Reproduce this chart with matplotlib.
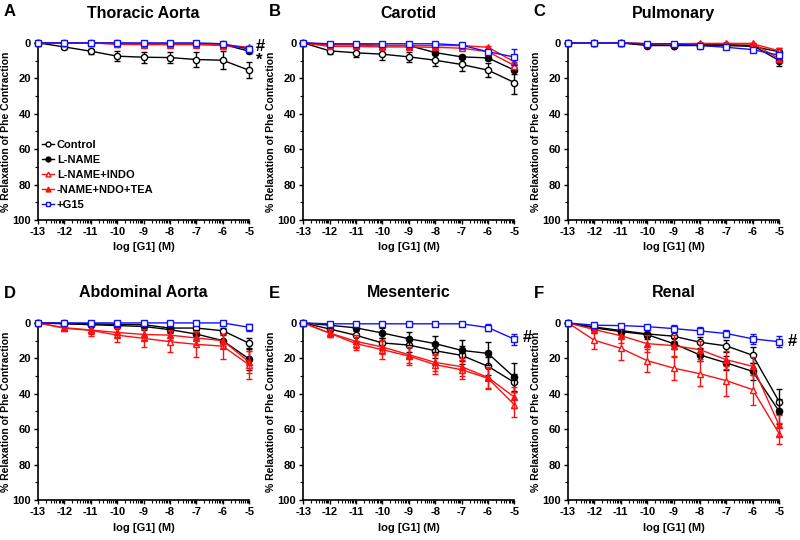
import numpy as np
import matplotlib
matplotlib.use("Agg")
import matplotlib.pyplot as plt
from matplotlib.lines import Line2D

plt.rcParams['font.family'] = ['Liberation Sans', 'DejaVu Sans']
plt.rcParams['font.weight'] = 'bold'
plt.rcParams['axes.unicode_minus'] = False

log_g1 = [-13, -12, -11, -10, -9, -8, -7, -6, -5]
labels = ["Control", "L-NAME", "L-NAME+INDO", "-NAME+NDO+TEA", "+G15"]

# order of rows: Control, L-NAME, L-NAME+INDO, L-NAME+INDO+TEA, +G15
thoracic_mean = [[0, 2.3, 4.7, 7.5, 8.1, 8.3, 9.4, 9.8, 15.5],
                 [0, 0, 0, 0.3, 0.5, 0.5, 0.5, 0.8, 4.7],
                 [0, 0, 0, 0.8, 1.0, 1.0, 1.0, 1.5, 3.0],
                 [0, 0, 0, 0.5, 0.5, 0.5, 0.5, 1.0, 2.5],
                 [0, 0, 0, 0, 0, 0, 0, 0.5, 3.5]]
thoracic_err = [[0, 1, 1.5, 3, 3, 3, 4, 5, 4.5],
                [0, 0, 0, 0, 0, 0, 0, 0.5, 1],
                [0, 0, 0, 0, 0, 0, 0, 0.5, 1],
                [0, 0, 0, 0, 0, 0, 0, 0.5, 1],
                [0, 0, 0, 0, 0, 0, 0, 0.5, 1]]

carotid_mean = [[0, 4.5, 5.6, 6.4, 7.9, 9.8, 12.2, 15.4, 22.4],
                [0, 1.0, 1.0, 1.5, 1.5, 5.5, 7.9, 8.5, 15.4],
                [0, 2.0, 2.0, 2.3, 2.3, 2.5, 3.0, 5.0, 12.8],
                [0, 1.0, 1.0, 1.5, 1.5, 1.5, 1.5, 2.5, 10.7],
                [0, 0.5, 0.5, 0.5, 0.5, 0.5, 1.3, 5.0, 8.0]]
carotid_err = [[0, 2, 2.5, 3, 3, 3.5, 3.5, 4, 6.5],
               [0, 0.5, 0.5, 0.5, 0.5, 1, 1, 1, 2],
               [0, 0.5, 0.5, 0.5, 0.5, 0.5, 1, 1, 2],
               [0, 0.5, 0.5, 0.5, 0.5, 0.5, 1, 1, 2],
               [0, 0, 0, 0, 0, 0, 0.5, 1, 4.5]]

pulmonary_mean = [[0, 0, 0, 1.0, 1.5, 1.5, 1.5, 2.0, 5.0],
                  [0, 0, 0, 1.5, 1.5, 1.0, 1.0, 1.5, 10.0],
                  [0, 0, 0, 0.5, 0.5, 0.5, 0.5, 0.5, 4.5],
                  [0, 0, 0, 0.5, 0.5, 0.3, 0.3, 0.3, 9.0],
                  [0, 0, 0, 0.5, 0.5, 1.5, 2.5, 3.8, 7.0]]
pulmonary_err = [[0, 0, 0, 0.5, 0.5, 0.5, 0.5, 0.5, 2],
                 [0, 0, 0, 0.5, 0.5, 0.5, 0.5, 0.5, 3],
                 [0, 0, 0, 0, 0, 0, 0, 0.5, 1.5],
                 [0, 0, 0, 0, 0, 0, 0, 0.5, 1.5],
                 [0, 0, 0, 0, 0, 0, 0.5, 0.5, 2]]

abdominal_mean = [[0, 0.3, 0.5, 0.8, 1.0, 2.9, 2.9, 4.4, 11.5],
                  [0, 0.5, 1.0, 1.5, 2.0, 3.8, 6.3, 10.0, 20.4],
                  [0, 3.0, 4.2, 6.9, 8.7, 10.6, 12.1, 13.1, 23.7],
                  [0, 2.7, 4.0, 5.4, 6.5, 6.9, 8.5, 10.0, 22.1],
                  [0, 0, 0, 0, 0, 0, 0, 0, 2.5]]
abdominal_err = [[0, 0.5, 0.5, 0.5, 1, 1, 1, 1.5, 3],
                 [0, 1, 1, 1.5, 2, 2, 2.5, 3, 6],
                 [0, 1, 3, 4, 5, 6, 7, 7, 8],
                 [0, 1, 2, 2.5, 3, 3, 4, 4, 6],
                 [0, 0, 0, 0, 0, 0, 0, 0, 2]]

mesenteric_mean = [[0, 3.4, 7.0, 11.3, 12.5, 15.7, 18.3, 24.5, 33.6],
                   [0, 1.3, 2.8, 5.7, 8.9, 11.7, 15.5, 17.2, 30.8],
                   [0, 5.8, 11.7, 15.1, 18.7, 23.6, 26.4, 31.3, 46.2],
                   [0, 5.7, 10.4, 13.6, 17.9, 22.3, 24.7, 30.8, 41.9],
                   [0, 0.5, 0.5, 0.5, 0.5, 0.5, 0.5, 2.6, 9.2]]
mesenteric_err = [[0, 2, 3, 3, 4, 4, 5, 5, 5],
                  [0, 1, 2, 3, 3.5, 4.5, 6, 6.5, 8],
                  [0, 2, 3.5, 5, 5, 5.5, 5.5, 6, 7],
                  [0, 2, 3.5, 4, 4.5, 5, 5, 6, 6],
                  [0, 0, 0, 0, 0, 0, 0, 2, 3]]

renal_mean = [[0, 2.3, 4.3, 6.2, 7.5, 10.9, 13.0, 18.3, 44.5],
              [0, 2.8, 4.9, 6.6, 11.7, 18.1, 22.6, 27.4, 50.0],
              [0, 9.8, 14.3, 21.3, 25.5, 28.7, 32.6, 37.7, 62.6],
              [0, 3.8, 7.2, 11.7, 12.8, 15.1, 20.8, 24.5, 57.9],
              [0, 1.3, 1.5, 2.1, 3.2, 4.5, 6.0, 9.0, 10.6]]
renal_err = [[0, 1, 1.5, 2, 2.5, 3, 3.5, 4.5, 7],
             [0, 1, 2, 2.5, 3, 3.5, 4, 5, 7],
             [0, 5, 6.5, 6.5, 6.5, 7, 8.5, 8.5, 6],
             [0, 2, 4, 5, 6, 5, 5, 5, 6],
             [0, 0.5, 1, 1, 2, 2, 2, 3, 3]]

titles = ["Thoracic Aorta", "Carotid", "Pulmonary",
          "Abdominal Aorta", "Mesenteric", "Renal"]
letters = ["A", "B", "C", "D", "E", "F"]
means = [thoracic_mean, carotid_mean, pulmonary_mean,
         abdominal_mean, mesenteric_mean, renal_mean]
errs = [thoracic_err, carotid_err, pulmonary_err,
        abdominal_err, mesenteric_err, renal_err]

styles = [dict(color='black', marker='o', mfc='white'),
          dict(color='black', marker='o', mfc='black'),
          dict(color='#ff1010', marker='^', mfc='white'),
          dict(color='#ff1010', marker='^', mfc='#ff1010'),
          dict(color='#1010ff', marker='s', mfc='white')]

fig = plt.figure(figsize=(8, 5.4), dpi=100)

lefts = [0.0475, 0.379, 0.71]
bottoms = [0.5926, 0.074]
w, h = 0.264, 0.328
letter_y = [0.978, 0.457]

minor_x = [k + np.log10(m) for k in range(-13, -5) for m in range(2, 10)]

for i in range(6):
    r, c = divmod(i, 3)
    ax = fig.add_axes([lefts[c], bottoms[r], w, h])
    for j in range(5):
        st = styles[j]
        ax.errorbar(log_g1, means[i][j], yerr=errs[i][j], color=st['color'],
                    marker=st['marker'], mfc=st['mfc'], mec=st['color'],
                    ms=4.5, lw=1, elinewidth=1, capsize=2, capthick=1,
                    clip_on=False, zorder=3 + j)
    ax.set_xlim(-13, -5)
    ax.set_ylim(100, 0)
    ax.set_xticks(log_g1)
    ax.set_xticks(minor_x, minor=True)
    ax.set_yticks([0, 20, 40, 60, 80, 100])
    ax.set_yticks([10, 30, 50, 70, 90], minor=True)
    ax.tick_params(which='major', labelsize=8, length=3, width=1,
                   direction='out', pad=2)
    ax.tick_params(which='minor', length=2, width=0.8, direction='out')
    for s in ['top', 'right']:
        ax.spines[s].set_visible(False)
    for s in ['left', 'bottom']:
        ax.spines[s].set_linewidth(1.2)
    ax.set_xlabel("log [G1] (M)", fontsize=8, fontweight='bold', labelpad=4)
    ax.set_ylabel("% Relaxation of Phe Contraction", fontsize=7.5,
                  fontweight='bold', labelpad=1)
    pad = 18 if r == 0 else 19
    ax.set_title(titles[i], fontsize=11.5, fontweight='bold', pad=pad)
    fig.text(lefts[c] - 0.043, letter_y[r], letters[i], fontsize=12,
             fontweight='bold', ha='left', va='center')

    if i == 0:
        handles = [Line2D([], [], color=st['color'], marker=st['marker'],
                          mfc=st['mfc'], mec=st['color'], ms=3.5, lw=1)
                   for st in styles]
        ax.legend(handles, labels, loc='lower left', frameon=False,
                  bbox_to_anchor=(0.0, 0.03), borderaxespad=0,
                  handlelength=1.0, handletextpad=0.3, labelspacing=0.45,
                  prop={'size': 8, 'weight': 'bold'})
        ax.annotate("#", (-5, 2), xytext=(5, 0), textcoords='offset points',
                    fontsize=12, fontweight='bold', va='center',
                    annotation_clip=False)
        ax.annotate("*", (-5, 8), xytext=(5, -2), textcoords='offset points',
                    fontsize=12, fontweight='bold', va='center',
                    annotation_clip=False)
    if i == 4:
        ax.annotate("#", (-5, 9.2), xytext=(6, 1), textcoords='offset points',
                    fontsize=12, fontweight='bold', va='center',
                    annotation_clip=False)
    if i == 5:
        ax.annotate("#", (-5, 10.6), xytext=(6, 0), textcoords='offset points',
                    fontsize=12, fontweight='bold', va='center',
                    annotation_clip=False)

fig.savefig("out.png", dpi=100)
